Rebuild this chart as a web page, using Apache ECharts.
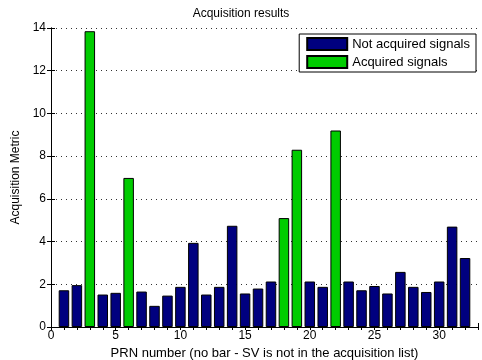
<!DOCTYPE html>
<html><head><meta charset="utf-8">
<script src="https://cdn.jsdelivr.net/npm/echarts@6/dist/echarts.min.js"></script>
<style>html,body{margin:0;padding:0;background:#fff}#c{width:482px;height:360px}</style>
</head><body><div id="c"></div>
<script>
const prn = [1,2,3,4,5,6,7,8,9,10,11,12,13,14,15,16,17,18,19,20,21,22,23,24,25,26,27,28,29,30,31,32];
const metric = [1.72,1.96,13.85,1.52,1.60,6.98,1.66,0.99,1.47,1.88,3.94,1.52,1.88,4.74,1.57,1.80,2.13,5.10,8.30,2.13,1.88,9.20,2.13,1.72,1.92,1.57,2.58,1.88,1.64,2.13,4.70,3.23];
const acquired = [3,6,18,19,22];
const xTicks = [0,5,10,15,20,25,30];
const yTicks = [0,2,4,6,8,10,12,14];

const notAcq = [], acq = [];
prn.forEach((p,i)=>{
  if (acquired.includes(p)) acq.push([p, metric[i]]); else notAcq.push([p, metric[i]]);
});
const font = 'Liberation Sans';
const chart = echarts.init(document.getElementById('c'));
chart.setOption({
  backgroundColor:'#fff',
  animation:false,
  title:{text:'Acquisition results', left:'center', top:3, textStyle:{fontFamily:font,fontSize:12,fontWeight:'normal',color:'#000'}},
  grid:{left:51, right:4, top:28, bottom:33, outerBoundsMode:'none'},
  legend:{
    orient:'vertical', right:6, top:34, itemWidth:40, itemHeight:12, itemGap:4, icon:'rect',
    padding:[3,6,3,7], borderColor:'#000', borderWidth:1, backgroundColor:'#fff',
    textStyle:{fontFamily:font,fontSize:13,color:'#000'},
    data:['Not acquired signals','Acquired signals']
  },
  xAxis:[{
    type:'value', min:0, max:33, interval:5,
    name:'PRN number (no bar - SV is not in the acquisition list)', nameLocation:'middle', nameGap:20,
    nameTextStyle:{fontFamily:font,fontSize:13,color:'#000'},
    axisLine:{onZero:false,lineStyle:{color:'#000'}},
    axisTick:{inside:true,length:4,lineStyle:{color:'#000'}},
    axisLabel:{fontFamily:font,fontSize:12,color:'#000',margin:3,
      formatter:v=>xTicks.includes(v)?String(v):''},
    splitLine:{show:false}
  },{
    type:'value', position:'top', min:0, max:33, interval:1,
    axisLine:{show:true,lineStyle:{color:'#000'}},
    axisTick:{inside:true,length:3,lineStyle:{color:'#000'}},
    axisLabel:{show:false}, splitLine:{show:false}
  }],
  yAxis:[{
    type:'value', min:0, max:14, interval:2,
    name:'Acquisition Metric', nameLocation:'middle', nameGap:25, nameRotate:90,
    nameTextStyle:{fontFamily:font,fontSize:12,color:'#000'},
    axisLine:{show:true,lineStyle:{color:'#000'}},
    axisTick:{inside:true,length:4,lineStyle:{color:'#000'}},
    axisLabel:{fontFamily:font,fontSize:12,color:'#000',margin:5,
      formatter:v=>yTicks.includes(v)?String(v):''},
    splitLine:{show:true,lineStyle:{color:'#333',type:[1,4],width:1}}
  },{
    type:'value', position:'right', min:0, max:14, interval:2,
    axisLine:{show:true,lineStyle:{color:'#000'}},
    axisTick:{inside:true,length:4,lineStyle:{color:'#000'}},
    axisLabel:{show:false}, splitLine:{show:false}
  }],
  series:[
    {name:'Not acquired signals', type:'bar', data:notAcq, barWidth:10.5, barGap:'-100%',
     itemStyle:{color:'#00007f',borderColor:'#000',borderWidth:1}},
    {name:'Acquired signals', type:'bar', data:acq, barWidth:10.5, barGap:'-100%',
     itemStyle:{color:'#00cc00',borderColor:'#000',borderWidth:1}}
  ]
});
</script></body></html>
